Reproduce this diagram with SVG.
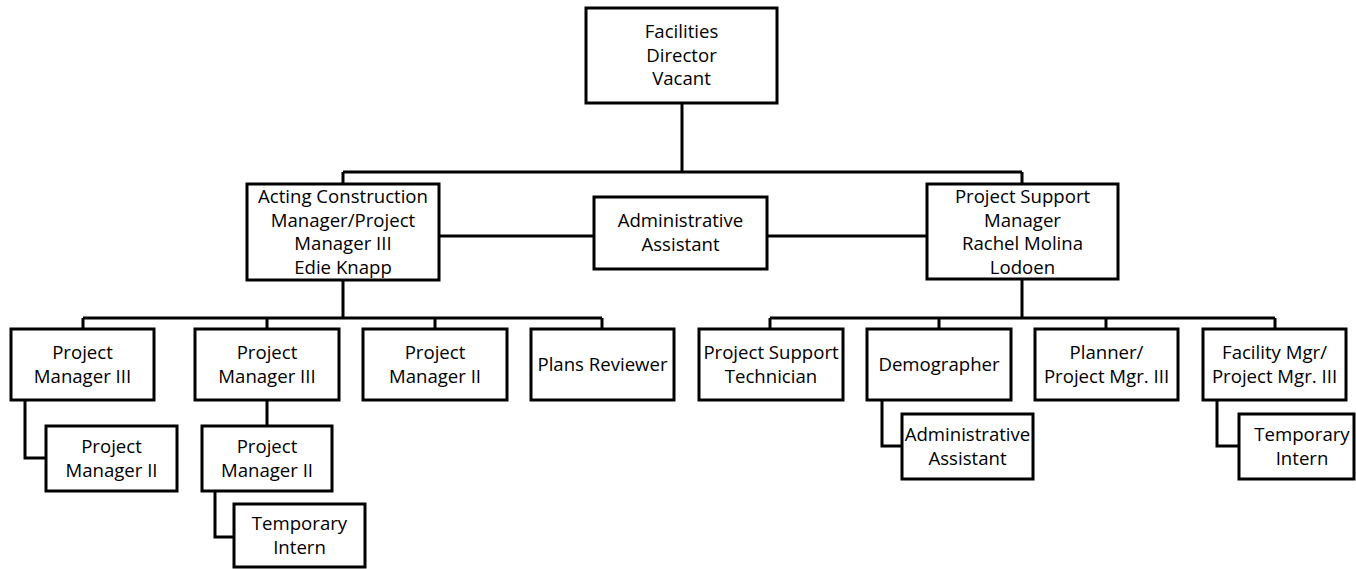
<svg xmlns="http://www.w3.org/2000/svg" width="1356" height="569" viewBox="0 0 1356 569">
<style>
.box{fill:#fff;stroke:#000;stroke-width:3}
.ln{fill:none;stroke:#000;stroke-width:3}
text{font-family:"Open Sans","Noto Sans",sans-serif;font-size:18.6px;fill:#000;text-anchor:middle}
</style>
<rect width="1356" height="569" fill="#fff"/>
<g id="connectors">
<path class="ln" d="M682 103V172M343 172H1022M343 172V184M1022 172V184"/>
<path class="ln" d="M439 236H594M767 236H927"/>
<path class="ln" d="M343 280V318M83 318H602M83 318V329M267 318V329M435 318V329M602 318V329"/>
<path class="ln" d="M1022 279V318M770 318H1275M770 318V329M939 318V329M1106 318V329M1275 318V329"/>
<path class="ln" d="M25 400V458H46M267 400V426M215 491V537H234M882 400V446H902M1217 400V446H1239"/>
</g>
<g id="n-director"><rect class="box" x="586" y="8" width="191" height="95"/><text x="681.5" y="38">Facilities</text><text x="681.5" y="61.5">Director</text><text x="681.5" y="85">Vacant</text></g>
<g id="n-acting"><rect class="box" x="247" y="184" width="192" height="96"/><text x="343" y="203">Acting Construction</text><text x="343" y="226.5">Manager/Project</text><text x="343" y="250">Manager III</text><text x="343" y="273.5">Edie Knapp</text></g>
<g id="n-admin"><rect class="box" x="594" y="197" width="173" height="72"/><text x="680.5" y="227">Administrative</text><text x="680.5" y="250.5">Assistant</text></g>
<g id="n-support"><rect class="box" x="927" y="184" width="191" height="95"/><text x="1022.5" y="203">Project Support</text><text x="1022.5" y="226.5">Manager</text><text x="1022.5" y="250">Rachel Molina</text><text x="1022.5" y="273.5">Lodoen</text></g>
<g id="n-pm3a"><rect class="box" x="11" y="329" width="143" height="71"/><text x="82.5" y="359">Project</text><text x="82.5" y="382.5">Manager III</text></g>
<g id="n-pm3b"><rect class="box" x="195" y="329" width="144" height="71"/><text x="267" y="359">Project</text><text x="267" y="382.5">Manager III</text></g>
<g id="n-pm2c"><rect class="box" x="363" y="329" width="144" height="71"/><text x="435" y="359">Project</text><text x="435" y="382.5">Manager II</text></g>
<g id="n-plans"><rect class="box" x="531" y="329" width="143" height="71"/><text x="602.5" y="371">Plans Reviewer</text></g>
<g id="n-pst"><rect class="box" x="699" y="329" width="144" height="71"/><text x="771" y="359">Project Support</text><text x="771" y="382.5">Technician</text></g>
<g id="n-demo"><rect class="box" x="867" y="329" width="144" height="71"/><text x="939" y="371">Demographer</text></g>
<g id="n-planner"><rect class="box" x="1035" y="329" width="143" height="71"/><text x="1106.5" y="359">Planner/</text><text x="1106.5" y="382.5">Project Mgr. III</text></g>
<g id="n-facility"><rect class="box" x="1203" y="329" width="143" height="71"/><text x="1274.5" y="359">Facility Mgr/</text><text x="1274.5" y="382.5">Project Mgr. III</text></g>
<g id="n-pm2a"><rect class="box" x="46" y="426" width="131" height="65"/><text x="111.5" y="453">Project</text><text x="111.5" y="476.5">Manager II</text></g>
<g id="n-pm2b"><rect class="box" x="202" y="426" width="130" height="65"/><text x="267" y="453">Project</text><text x="267" y="476.5">Manager II</text></g>
<g id="n-intern1"><rect class="box" x="234" y="504" width="131" height="63"/><text x="299.5" y="530">Temporary</text><text x="299.5" y="553.5">Intern</text></g>
<g id="n-admin2"><rect class="box" x="902" y="414" width="131" height="65"/><text x="967.5" y="441">Administrative</text><text x="967.5" y="464.5">Assistant</text></g>
<g id="n-intern2"><rect class="box" x="1239" y="414" width="115" height="65"/><text x="1302" y="441">Temporary</text><text x="1302" y="464.5">Intern</text></g>
</svg>
